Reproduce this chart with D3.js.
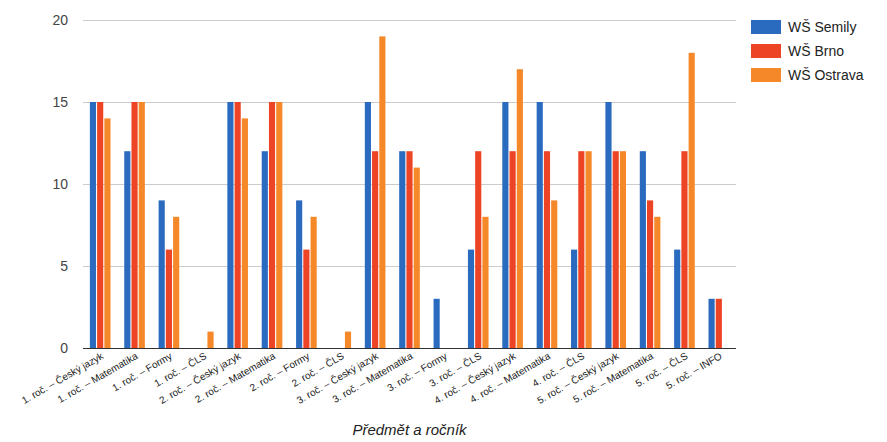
<!DOCTYPE html>
<html><head><meta charset="utf-8">
<script src="https://cdn.jsdelivr.net/npm/d3@7"></script>
<style>body{margin:0;background:#fff;font-family:Arial,"Liberation Sans",sans-serif}</style>
</head><body><svg id="c" width="887" height="442"></svg>
<script>
const categories = [
 "1. roč. – Český jazyk","1. roč. – Matematika","1. roč. – Formy","1. roč. – ČLS",
 "2. roč. – Český jazyk","2. roč. – Matematika","2. roč. – Formy","2. roč. – ČLS",
 "3. roč. – Český jazyk","3. roč. – Matematika","3. roč. – Formy","3. roč. – ČLS",
 "4. roč. – Český jazyk","4. roč. – Matematika","4. roč. – ČLS",
 "5. roč. – Český jazyk","5. roč. – Matematika","5. roč. – ČLS","5. roč. – INFO"];
const seriesNames = ["WŠ Semily","WŠ Brno","WŠ Ostrava"];
const semily  = [15,12,9,0,15,12,9,0,15,12,3,6,15,15,6,15,12,6,3];
const brno    = [15,15,6,0,15,15,6,0,12,12,0,12,12,12,12,12,9,12,3];
const ostrava = [14,15,8,1,14,15,8,1,19,11,0,8,17,9,12,12,8,18,0];
const yTicks = [0,5,10,15,20];
const colors = ["#2b6bbf","#ee4426","#f5892a"];
const xTitle = "Předmět a ročník";

const series = [semily, brno, ostrava];
const svg = d3.select("#c");
const L=83, R=736, T=20, B=348;
const x0 = d3.scaleBand().domain(categories).range([L,R]).paddingInner(0.4).paddingOuter(0.2);
const x1 = d3.scaleBand().domain(d3.range(3)).range([0,x0.bandwidth()]).paddingInner(0.15);
const y = d3.scaleLinear().domain([0,20]).range([B,T]);

// gridlines
svg.append("g").selectAll("line").data(yTicks.filter(d=>d>0)).join("line")
  .attr("x1",L).attr("x2",R).attr("y1",d=>y(d)+0.5).attr("y2",d=>y(d)+0.5)
  .attr("stroke","#cccccc").attr("stroke-width",1);

// y axis labels
const ya = svg.append("g").attr("transform",`translate(${L},0)`)
  .call(d3.axisLeft(y).tickValues(yTicks).tickSize(0).tickPadding(15).tickFormat(d3.format("d")));
ya.select(".domain").remove();
ya.selectAll("text").attr("font-size",14).attr("fill","#444").attr("font-family","Arial,'Liberation Sans',sans-serif");

// bars
const g = svg.append("g");
categories.forEach((c,i)=>{
  series.forEach((s,j)=>{
    if(s[i]>0) g.append("rect")
      .attr("x", x0(c)+x1(j)).attr("width", x1.bandwidth())
      .attr("y", y(s[i])).attr("height", y(0)-y(s[i]))
      .attr("fill", colors[j]);
  });
});

// baseline
svg.append("line").attr("x1",L).attr("x2",R).attr("y1",B+0.5).attr("y2",B+0.5)
  .attr("stroke","#333").attr("stroke-width",1);

// x axis labels
const xa = svg.append("g").attr("transform",`translate(0,${B})`)
  .call(d3.axisBottom(x0).tickSize(0).tickPadding(0));
xa.select(".domain").remove();
xa.selectAll("text")
  .attr("font-size",10).attr("fill","#222").attr("font-family","Arial,'Liberation Sans',sans-serif")
  .attr("text-anchor","end").attr("dy",0)
  .attr("transform","translate(4,10) rotate(-30)");

// x title
svg.append("text").attr("x",(L+R)/2).attr("y",435).attr("text-anchor","middle")
  .attr("font-size",15).attr("font-style","italic").attr("fill","#222").text(xTitle);

// legend
const lg = svg.append("g");
seriesNames.forEach((n,j)=>{
  lg.append("rect").attr("x",751).attr("y",20+j*24).attr("width",30).attr("height",14).attr("fill",colors[j]);
  lg.append("text").attr("x",788).attr("y",32+j*24).attr("font-size",14).attr("fill","#222").text(n);
});
</script></body></html>
